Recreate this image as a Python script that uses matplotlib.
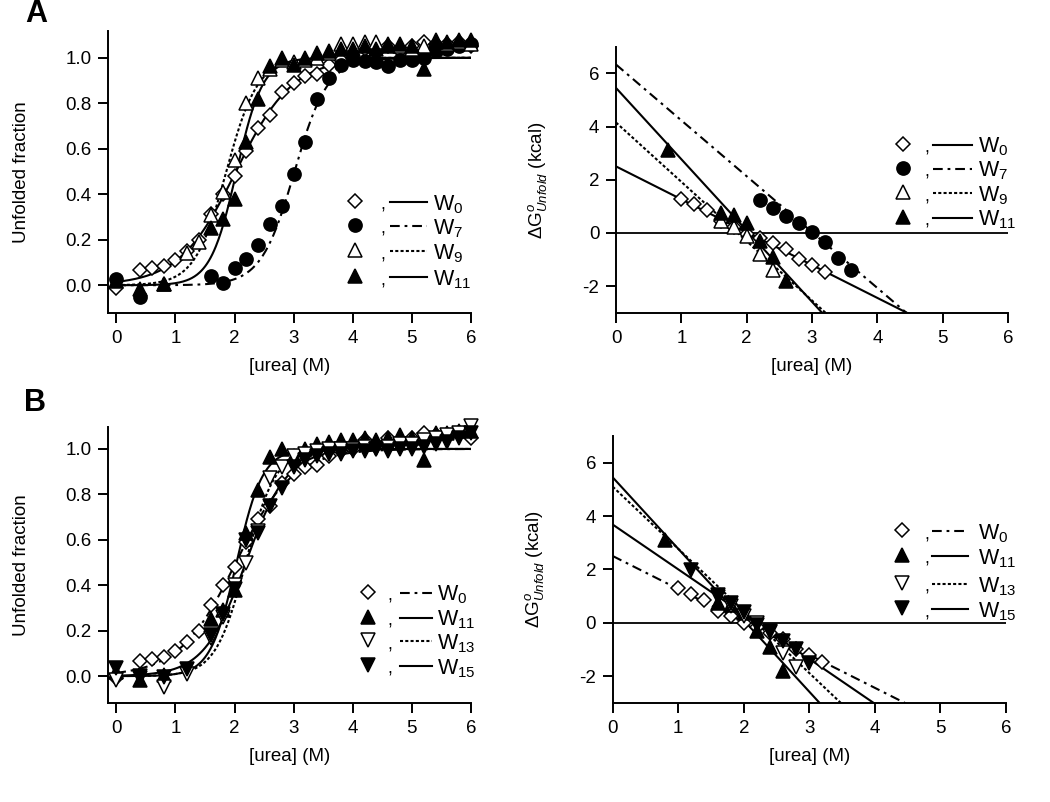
import numpy as np
import matplotlib
matplotlib.use("Agg")
import matplotlib.pyplot as plt
from matplotlib.lines import Line2D
from matplotlib.ticker import FormatStrFormatter

plt.rcParams['font.family'] = 'Liberation Sans'
plt.rcParams['mathtext.fontset'] = 'custom'
plt.rcParams['mathtext.rm'] = 'Liberation Sans'
plt.rcParams['mathtext.it'] = 'Liberation Sans:italic'
plt.rcParams['mathtext.bf'] = 'Liberation Sans:bold'
plt.rcParams['lines.scale_dashes'] = False
plt.rcParams['axes.unicode_minus'] = False

RT = 0.593  # kcal/mol

# ---------------- data: unfolded fraction vs [urea] ----------------
w0_x = [0, 0.4, 0.6, 0.8, 1.0, 1.2, 1.4, 1.6, 1.8, 2.0, 2.2, 2.4, 2.6, 2.8, 3.0,
        3.2, 3.4, 3.6, 3.8, 4.0, 4.2, 4.4, 4.6, 4.8, 5.0, 5.2, 5.4, 5.6, 5.8, 6.0]
w0_f = [-0.01, 0.065, 0.075, 0.085, 0.11, 0.15, 0.20, 0.315, 0.40, 0.48, 0.59, 0.69, 0.75, 0.85, 0.89,
        0.92, 0.93, 0.97, 0.99, 1.00, 1.04, 1.02, 1.05, 1.03, 1.05, 1.07, 1.06, 1.06, 1.07, 1.05]

w7_x = [0, 0.4, 1.6, 1.8, 2.0, 2.2, 2.4, 2.6, 2.8, 3.0, 3.2, 3.4, 3.6, 3.8,
        4.0, 4.2, 4.4, 4.6, 4.8, 5.0, 5.2, 5.4, 5.6, 5.8, 6.0]
w7_f = [0.027, -0.05, 0.04, 0.01, 0.075, 0.115, 0.175, 0.27, 0.35, 0.49, 0.63, 0.82, 0.91, 0.97,
        0.99, 0.985, 0.98, 0.965, 0.99, 0.99, 1.0, 1.03, 1.04, 1.05, 1.06]

w9_x = [0.8, 1.2, 1.4, 1.6, 1.8, 2.0, 2.2, 2.4, 2.6, 2.8, 3.0, 3.2, 3.4, 3.6,
        3.8, 4.0, 4.2, 4.4, 4.6, 4.8, 5.0, 5.2, 5.4, 5.6, 5.8, 6.0]
w9_f = [0.005, 0.14, 0.19, 0.31, 0.41, 0.55, 0.80, 0.91, 0.95, 0.99, 0.98, 0.99, 1.0, 1.02,
        1.06, 1.06, 1.07, 1.07, 1.06, 1.05, 1.04, 1.05, 1.08, 1.06, 1.07, 1.06]

w11_x = [0, 0.4, 0.8, 1.6, 1.8, 2.0, 2.2, 2.4, 2.6, 2.8, 3.0, 3.2, 3.4, 3.6,
         3.8, 4.0, 4.2, 4.4, 4.6, 4.8, 5.0, 5.2, 5.4, 5.6, 5.8, 6.0]
w11_f = [0.02, -0.015, 0.005, 0.25, 0.29, 0.38, 0.63, 0.82, 0.965, 1.0, 0.97, 1.0, 1.02, 1.03,
         1.04, 1.04, 1.05, 1.04, 1.05, 1.06, 1.05, 0.95, 1.07, 1.07, 1.08, 1.08]

w13_x = [0, 0.4, 0.8, 1.2, 1.6, 1.8, 2.0, 2.2, 2.4, 2.6, 2.8, 3.0, 3.2, 3.4,
         3.6, 3.8, 4.0, 4.2, 4.4, 4.6, 4.8, 5.0, 5.2, 5.4, 5.6, 5.8, 6.0]
w13_f = [-0.015, -0.01, -0.047, 0.01, 0.17, 0.26, 0.40, 0.50, 0.64, 0.87, 0.92, 0.97, 0.98, 0.99,
         1.0, 1.0, 1.0, 1.01, 1.0, 1.01, 1.02, 1.02, 1.04, 1.05, 1.06, 1.07, 1.10]

w15_x = [0, 0.4, 0.8, 1.2, 1.6, 1.8, 2.0, 2.2, 2.4, 2.6, 2.8, 3.0, 3.2, 3.4,
         3.6, 3.8, 4.0, 4.2, 4.4, 4.6, 4.8, 5.0, 5.2, 5.4, 5.6, 5.8, 6.0]
w15_f = [0.034, 0.0, -0.003, 0.03, 0.18, 0.275, 0.385, 0.60, 0.63, 0.75, 0.83, 0.92, 0.95, 0.97,
         0.98, 0.98, 0.99, 0.99, 1.0, 0.99, 1.0, 1.0, 1.01, 1.02, 1.03, 1.05, 1.07]

# ---------------- data: dG(unfold) vs [urea] ----------------
w0_gx = [1.0, 1.2, 1.4, 1.6, 1.8, 2.0, 2.2, 2.4, 2.6, 2.8, 3.0, 3.2]
w0_g = [1.29, 1.09, 0.85, 0.45, 0.24, -0.03, -0.18, -0.38, -0.62, -0.98, -1.2, -1.48]
w7_gx = [2.2, 2.4, 2.6, 2.8, 3.0, 3.2, 3.4, 3.6]
w7_g = [1.23, 0.95, 0.63, 0.38, 0.04, -0.34, -0.93, -1.4]
w9_gx = [1.6, 1.8, 2.0, 2.2, 2.4]
w9_g = [0.45, 0.22, -0.1, -0.8, -1.38]
w11_gx = [0.8, 1.6, 1.8, 2.0, 2.2, 2.4, 2.6]
w11_g = [3.1, 0.73, 0.66, 0.36, -0.3, -0.9, -1.8]
w13_gx = [1.6, 1.8, 2.0, 2.2, 2.4, 2.6, 2.8]
w13_g = [0.95, 0.62, 0.25, 0.0, -0.35, -1.15, -1.65]
w15_gx = [1.2, 1.6, 1.8, 2.0, 2.2, 2.4, 2.6, 2.8, 3.0]
w15_g = [1.98, 1.05, 0.73, 0.39, -0.08, -0.3, -0.68, -0.99, -1.53]

# linear-extrapolation fit parameters: dG = dG0 - m*[urea]
fit_dG0 = {'W0': 2.5, 'W7': 6.33, 'W9': 4.15, 'W11': 5.45, 'W13': 5.1, 'W15': 3.68}
fit_m = {'W0': 1.236, 'W7': 2.1, 'W9': 2.23, 'W11': 2.68, 'W13': 2.33, 'W15': 1.68}

frac = {'W0': (w0_x, w0_f), 'W7': (w7_x, w7_f), 'W9': (w9_x, w9_f),
        'W11': (w11_x, w11_f), 'W13': (w13_x, w13_f), 'W15': (w15_x, w15_f)}
dgs = {'W0': (w0_gx, w0_g), 'W7': (w7_gx, w7_g), 'W9': (w9_gx, w9_g),
       'W11': (w11_gx, w11_g), 'W13': (w13_gx, w13_g), 'W15': (w15_gx, w15_g)}

# ---------------- styles ----------------
MARK = {'W0': dict(marker='D', ms=7.3, mfc='white'),
        'W7': dict(marker='o', ms=9.5, mfc='black'),
        'W9': dict(marker='^', ms=9.5, mfc='white'),
        'W11': dict(marker='^', ms=9.5, mfc='black'),
        'W13': dict(marker='v', ms=9.5, mfc='white'),
        'W15': dict(marker='v', ms=9.5, mfc='black')}
SOLID = '-'
DASHDOT = (0, (7, 3.5, 2, 3.5))
DOTTED = (0, (2.2, 1.6))

W, H = 1050, 802
fig = plt.figure(figsize=(W / 100, H / 100), dpi=100)


def add_ax(l, r, t, b):
    return fig.add_axes([l / W, 1 - b / H, (r - l) / W, (b - t) / H])


def style_axes(ax):
    for s in ['top', 'right']:
        ax.spines[s].set_visible(False)
    for s in ['left', 'bottom']:
        ax.spines[s].set_linewidth(1.4)
    ax.tick_params(direction='out', length=7.5, width=1.4, labelsize=13.5, color='black')
    ax.tick_params(axis='y', pad=4.5)
    ax.tick_params(axis='x', pad=5)
    ax.set_xticks([0, 1, 2, 3, 4, 5, 6])


xfit = np.linspace(0, 6, 400)


def frac_panel(ax, keys, ls_map, ylim):
    style_axes(ax)
    for k in keys:
        dG = fit_dG0[k] - fit_m[k] * xfit
        ax.plot(xfit, 1.0 / (1.0 + np.exp(dG / RT)), color='black', lw=1.5, ls=ls_map[k], zorder=2)
    for k in keys:
        x, f = frac[k]
        ax.plot(x, f, ls='none', mec='black', mew=1.1, zorder=3, clip_on=False, **MARK[k])
    ax.set_xlim(-0.135, 6.0)
    ax.set_ylim(*ylim)
    ax.set_yticks([0, 0.2, 0.4, 0.6, 0.8, 1.0])
    ax.yaxis.set_major_formatter(FormatStrFormatter('%.1f'))
    ax.set_xlabel('[urea] (M)', fontsize=13.5, labelpad=8)
    ax.set_ylabel('Unfolded fraction', fontsize=13.5, va='center')
    ax.yaxis.set_label_coords(-0.238, 0.5)


def dg_panel(ax, keys, ls_map):
    style_axes(ax)
    ax.axhline(0, color='black', lw=1.3, zorder=1)
    for k in keys:
        ax.plot(xfit, fit_dG0[k] - fit_m[k] * xfit, color='black', lw=1.5, ls=ls_map[k], zorder=2)
    for k in keys:
        x, g = dgs[k]
        ax.plot(x, g, ls='none', mec='black', mew=1.1, zorder=3, **MARK[k])
    ax.set_xlim(0, 6)
    ax.set_ylim(-3, 7)
    ax.set_yticks([-2, 0, 2, 4, 6])
    ax.set_xlabel('[urea] (M)', fontsize=13.5, labelpad=8)
    ax.set_ylabel(r'$\mathit{\Delta}\mathrm{G}^{o}_{\mathit{Unfold}}$ (kcal)', fontsize=13.5, va='center')
    ax.yaxis.set_label_coords(-0.2, 0.5)


def legend(keys, ls_map, xm, xc, xl0, xl1, xt, ys):
    for k, y in zip(keys, ys):
        fy = 1 - y / H
        fig.add_artist(Line2D([xm / W], [fy], ls='none', mec='black', mew=1.1,
                              transform=fig.transFigure, **MARK[k]))
        fig.text(xc / W, 1 - (y + 9) / H, ',', ha='center', va='baseline', fontsize=13)
        fig.add_artist(Line2D([xl0 / W, xl1 / W], [1 - (y + 1) / H] * 2, color='black', lw=1.5,
                              ls=ls_map[k], transform=fig.transFigure))
        fig.text(xt / W, 1 - (y + 9) / H, 'W$_{%s}$' % k[1:], ha='left', va='baseline', fontsize=15.5)


# ---------------- panel A ----------------
keysA = ['W0', 'W7', 'W9', 'W11']
lsA = {'W0': SOLID, 'W7': DASHDOT, 'W9': DOTTED, 'W11': SOLID}
axA1 = add_ax(108.3, 471, 31, 313)
frac_panel(axA1, keysA, lsA, (-0.122, 1.118))
axA2 = add_ax(616, 1008, 46.7, 312.7)
dg_panel(axA2, keysA, lsA)
legend(keysA, lsA, 355, 383, 390, 427, 433, [201, 225, 250, 276])
legend(keysA, lsA, 903, 927, 933, 972, 978, [143.5, 167.5, 192, 216.5])

# ---------------- panel B ----------------
keysB = ['W0', 'W11', 'W13', 'W15']
lsB = {'W0': DASHDOT, 'W11': SOLID, 'W13': DOTTED, 'W15': SOLID}
axB1 = add_ax(108.3, 471, 426.7, 702.7)
frac_panel(axB1, keysB, lsB, (-0.117, 1.098))
axB2 = add_ax(612.7, 1006, 436, 702.7)
dg_panel(axB2, keysB, lsB)
legend(keysB, lsB, 368, 390, 400, 432, 437, [591.7, 616.7, 640, 665])
legend(keysB, lsB, 902, 926.7, 932, 968, 978, [530, 555, 583, 608])

fig.text(36 / W, 1 - 14 / H, 'A', ha='center', va='center', fontsize=22, fontweight='bold')
fig.text(35 / W, 1 - 403 / H, 'B', ha='center', va='center', fontsize=22, fontweight='bold')

fig.savefig('out.png', dpi=100)
